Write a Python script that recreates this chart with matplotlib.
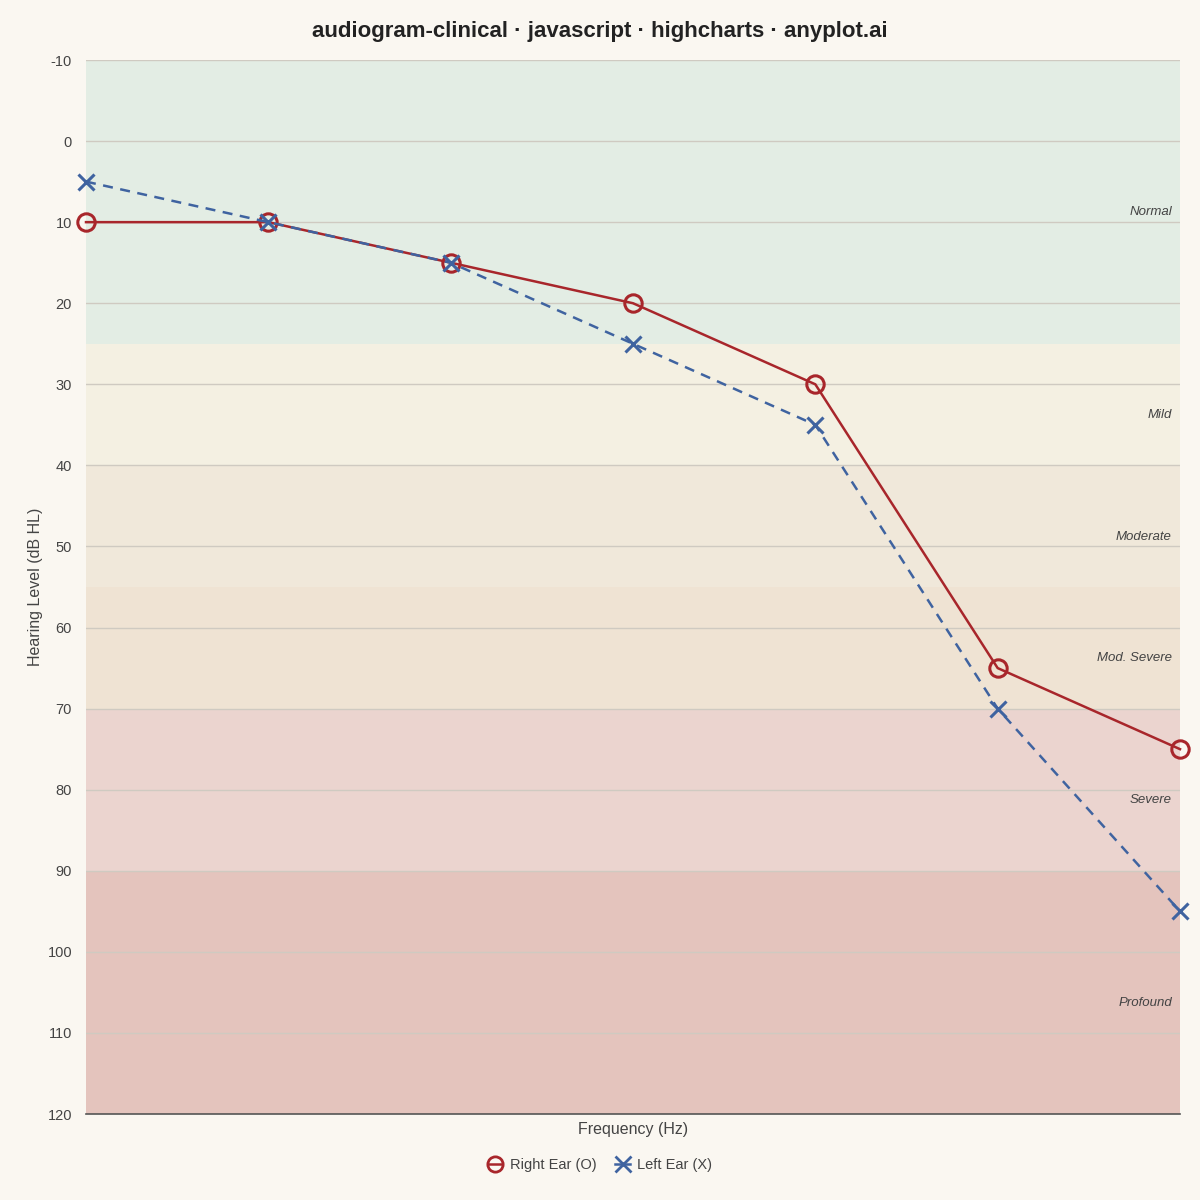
import matplotlib
matplotlib.use("Agg")
import matplotlib.pyplot as plt
from matplotlib.lines import Line2D

plt.rcParams['font.family'] = ['Liberation Sans', 'DejaVu Sans']
plt.rcParams['axes.unicode_minus'] = False

frequencies = ["125", "250", "500", "1000", "2000", "4000", "8000"]
right_ear = [10, 10, 15, 20, 30, 65, 75]
left_ear = [5, 10, 15, 25, 35, 70, 95]

band_names = ["Normal", "Mild", "Moderate", "Mod. Severe", "Severe", "Profound"]
band_from = [-10, 25, 40, 55, 70, 90]
band_to = [25, 40, 55, 70, 90, 120]
band_colors = ["#e3ede4", "#f4f0e2", "#f0e8da", "#efe3d3", "#ebd4cf", "#e4c4bd"]

bg = "#faf7f1"
fig = plt.figure(figsize=(12, 12), dpi=100, facecolor=bg)
ax = fig.add_axes([86/1200, 1 - 1114/1200, (1180-86)/1200, (1114-60)/1200])
ax.set_facecolor(bg)

x = list(range(len(frequencies)))
ax.set_xlim(0, len(frequencies) - 1)
ax.set_ylim(120, -10)

for name, lo, hi, c in zip(band_names, band_from, band_to, band_colors):
    ax.axhspan(lo, hi, color=c, zorder=0, lw=0)
    ax.annotate(name, xy=(1, (lo + hi) / 2), xycoords=('axes fraction', 'data'),
                xytext=(-5.8, -7.5), textcoords='offset points', ha='right', va='center',
                fontsize=9.5, style='italic', color='#444444')

ax.set_yticks(range(-10, 121, 10))
ax.yaxis.grid(True, color='#cfcac1', lw=1, zorder=1)
ax.set_xticks([])
ax.tick_params(axis='y', length=0, labelsize=10.5, labelcolor='#444444', pad=10)
for s in ['top', 'right', 'left']:
    ax.spines[s].set_visible(False)
ax.spines['bottom'].set_color('#555555')
ax.spines['bottom'].set_linewidth(1.2)

red = "#a8262b"
blue = "#3f63a0"
ax.plot(x, right_ear, color=red, lw=1.8, marker='o', ms=12.5, mfc='none', mec=red,
        mew=2.2, clip_on=False, zorder=4)
ax.plot(x, left_ear, color=blue, lw=1.8, ls=(0, (4, 3)), marker='x', ms=12, mec=blue,
        mew=2.2, clip_on=False, zorder=5)

ax.set_xlabel("Frequency (Hz)", fontsize=11.5, color='#444444', labelpad=6)
ax.set_ylabel("Hearing Level (dB HL)", fontsize=11.5, color='#444444', labelpad=3)

fig.suptitle("audiogram-clinical · javascript · highcharts · anyplot.ai", y=1 - 31/1200,
             va='center', fontsize=16, fontweight='bold', color='#222222')

handles = [Line2D([0], [0], color=red, lw=1.8, marker='o', ms=11, mfc='none', mec=red, mew=2),
           Line2D([0], [0], color=blue, lw=1.8, marker='x', ms=11, mec=blue, mew=2)]
fig.legend(handles, ["Right Ear (O)", "Left Ear (X)"], loc='center',
           bbox_to_anchor=(0.5, 1 - 1165/1200), ncol=2, frameon=False, fontsize=10.5,
           handlelength=1.0, handletextpad=0.5, columnspacing=1.3, labelcolor='#444444')

fig.savefig("out.png", dpi=100, facecolor=bg)
